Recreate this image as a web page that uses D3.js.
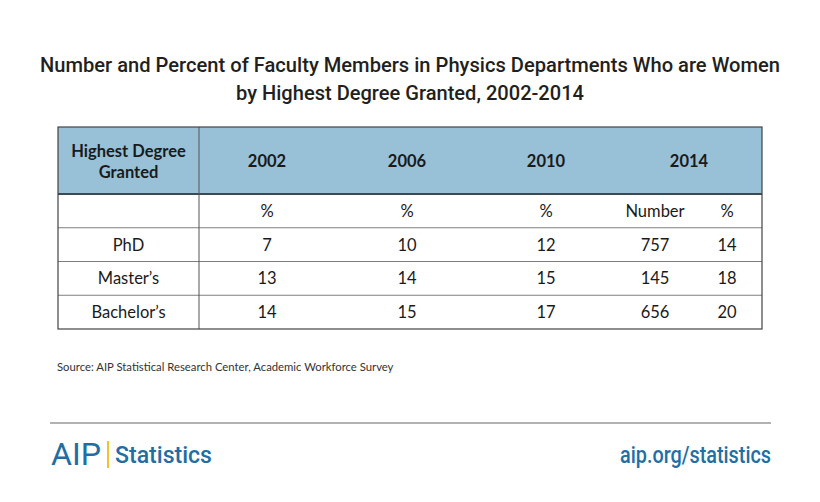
<!DOCTYPE html>
<html><head><meta charset="utf-8">
<script src="https://cdn.jsdelivr.net/npm/d3@7"></script>
<style>body{margin:0;background:#fff}svg{display:block}</style>
</head><body><svg id="c" width="820" height="502"></svg>
<script>
const titleLines = ["Number and Percent of Faculty Members in Physics Departments Who are Women","by Highest Degree Granted, 2002-2014"];
const rowHeader = ["Highest Degree","Granted"];
const years = ["2002","2006","2010","2014"];
const subHeaders = ["%","%","%","Number","%"];
const degrees = ["PhD","Master’s","Bachelor’s"];
const pct2002 = [7,13,14];
const pct2006 = [10,14,15];
const pct2010 = [12,15,17];
const num2014 = [757,145,656];
const pct2014 = [14,18,20];
const source = "Source: AIP Statistical Research Center, Academic Workforce Survey";

const svg = d3.select("#c");
const bodyFont = "Lato, 'Open Sans', sans-serif";

// title
const tW = [740, 348];
svg.selectAll("text.title").data(titleLines).join("text")
  .attr("x",410).attr("y",(d,i)=>72+i*28).attr("text-anchor","middle")
  .attr("font-family","Roboto, 'Liberation Sans', sans-serif").attr("font-size",21).attr("font-weight",500)
  .attr("fill","#231f20").attr("textLength",(d,i)=>tW[i]).attr("lengthAdjust","spacingAndGlyphs")
  .text(d=>d);

// table layout scales
const tLeft = 58, tRight = 762, divX = 199, tTop = 127, headBottom = 194, tBottom = 329;
const colKeys = ["c2002","c2006","c2010","n2014","p2014"];
const x = d3.scaleOrdinal().domain(colKeys).range([267,407,546,655,727]);
const yearX = d3.scaleOrdinal().domain(years).range([267,407,546,689]);
const y = d3.scaleBand().domain(["sub",...degrees]).range([headBottom,tBottom]);

const g = svg.append("g");
g.append("rect").attr("x",tLeft).attr("y",tTop).attr("width",tRight-tLeft).attr("height",headBottom-tTop)
  .attr("fill","#98c1d7");
g.selectAll("line.row").data(y.domain().slice(1)).join("line")
  .attr("x1",tLeft).attr("x2",tRight).attr("y1",d=>y(d)).attr("y2",d=>y(d))
  .attr("stroke","#7f7f7f").attr("stroke-width",1);
g.append("line").attr("x1",tLeft).attr("x2",tRight).attr("y1",headBottom).attr("y2",headBottom)
  .attr("stroke","#3c4a55").attr("stroke-width",2);
g.append("line").attr("x1",divX).attr("x2",divX).attr("y1",tTop).attr("y2",tBottom)
  .attr("stroke","#555").attr("stroke-width",1);
g.append("rect").attr("x",tLeft).attr("y",tTop).attr("width",tRight-tLeft).attr("height",tBottom-tTop)
  .attr("fill","none").attr("stroke","#444").attr("stroke-width",1.2);

g.selectAll("text.rh").data(rowHeader).join("text")
  .attr("x",(tLeft+divX)/2).attr("y",(d,i)=>157+i*21).attr("text-anchor","middle")
  .attr("font-family",bodyFont).attr("font-weight","bold").attr("font-size",16.5).attr("fill","#1a1a1a").text(d=>d);
g.selectAll("text.yr").data(years).join("text")
  .attr("x",d=>yearX(d)).attr("y",167).attr("text-anchor","middle")
  .attr("font-family",bodyFont).attr("font-weight","bold").attr("font-size",16.5).attr("fill","#1a1a1a").text(d=>d);

const mid = d=>y(d)+y.bandwidth()/2+6;
g.selectAll("text.sub").data(subHeaders).join("text")
  .attr("x",(d,i)=>x(colKeys[i])).attr("y",mid("sub")).attr("text-anchor","middle")
  .attr("font-family",bodyFont).attr("font-size",16.5).attr("fill","#1a1a1a").text(d=>d);

const cols = [pct2002,pct2006,pct2010,num2014,pct2014];
degrees.forEach((deg,r)=>{
  g.append("text").attr("x",(tLeft+divX)/2).attr("y",mid(deg)).attr("text-anchor","middle")
    .attr("font-family",bodyFont).attr("font-size",16.5).attr("fill","#1a1a1a").text(deg);
  g.selectAll(null).data(cols.map(c=>c[r])).join("text")
    .attr("x",(d,i)=>x(colKeys[i])).attr("y",mid(deg)).attr("text-anchor","middle")
    .attr("font-family",bodyFont).attr("font-size",16.5).attr("fill","#1a1a1a").text(d=>d);
});

svg.append("text").attr("x",57).attr("y",371).attr("font-family",bodyFont).attr("font-size",11.3)
  .attr("fill","#333").text(source);

svg.append("line").attr("x1",50).attr("x2",771).attr("y1",423).attr("y2",423).attr("stroke","#999").attr("stroke-width",1.5);
const blue = "#1f6ea4";
svg.append("text").attr("x",51).attr("y",465).attr("font-family","Roboto, sans-serif").attr("font-weight",400)
  .attr("font-size",32).attr("fill",blue).attr("textLength",50).attr("lengthAdjust","spacingAndGlyphs").text("AIP");
svg.append("rect").attr("x",107).attr("y",441).attr("width",2).attr("height",27).attr("fill","#f2c230");
svg.append("text").attr("x",115).attr("y",463).attr("font-family","Roboto, sans-serif").attr("font-weight",500)
  .attr("font-size",24).attr("fill",blue).attr("textLength",97).attr("lengthAdjust","spacingAndGlyphs").text("Statistics");
svg.append("text").attr("x",771).attr("y",463).attr("text-anchor","end").attr("font-family","Roboto, sans-serif").attr("font-weight",500)
  .attr("font-size",24).attr("fill",blue).attr("textLength",151).attr("lengthAdjust","spacingAndGlyphs").text("aip.org/statistics");
</script></body></html>
